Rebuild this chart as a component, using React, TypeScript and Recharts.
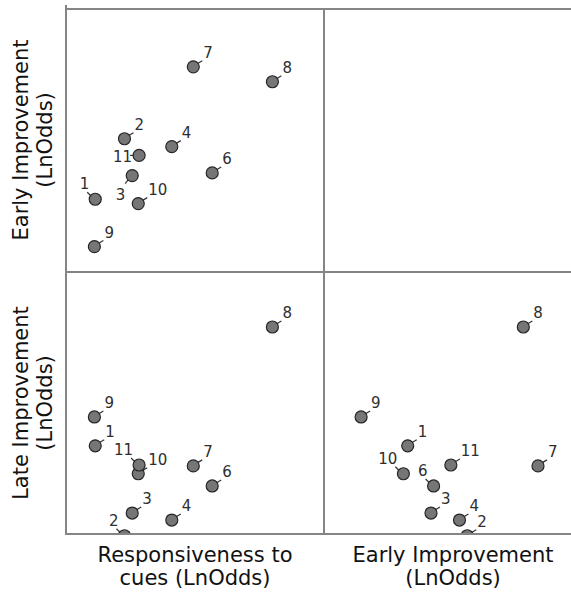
import React from 'react';
import { ScatterChart, Scatter, XAxis, YAxis } from 'recharts';

// case ids (there is no case 5)
const ids = ['1', '2', '3', '4', '6', '7', '8', '9', '10', '11'];
const responsiveness = [-0.16, 0.18, 0.27, 0.73, 1.2, 0.98, 1.9, -0.17, 0.34, 0.35];
const earlyImprovement = [-0.17, 0.52, 0.1, 0.43, 0.13, 1.34, 1.17, -0.71, -0.22, 0.33];
const lateImprovement = [0.01, -1.02, -0.76, -0.84, -0.45, -0.22, 1.37, 0.34, -0.31, -0.21];

// label side per cell, default is upper right
const sidesTopLeft: Record<string, string> = { '1': 'ul', '3': 'll', '11': 'l' };
const sidesBottomLeft: Record<string, string> = { '11': 'ul', '2': 'ul' };
const sidesBottomRight: Record<string, string> = { '10': 'ul', '6': 'ul' };

const respDomain: [number, number] = [-0.5, 2.5];
const earlyDomainY: [number, number] = [-1.0, 2.0];
const earlyDomainX: [number, number] = [-1.14, 1.85];
const lateDomain: [number, number] = [-1.0, 2.0];

const FRAME = '#858585';
const TITLE_FONT = '"DejaVu Sans", sans-serif';

function makeRows(xs: number[], ys: number[]) {
  return ids.map((id, i) => ({ id, x: xs[i], y: ys[i] }));
}

function makeShape(sides: Record<string, string>) {
  return (props: any) => {
    const { cx, cy, payload } = props;
    const side = sides[payload.id] || 'ur';
    let tx = cx + 10;
    let ty = cy - 9;
    let anchor: 'start' | 'end' = 'start';
    let lead = [cx + 4, cy - 3, cx + 9, cy - 6];
    if (side === 'ul') {
      tx = cx - 6;
      ty = cy - 10;
      anchor = 'end';
      lead = [cx - 4, cy - 3, cx - 8, cy - 7];
    } else if (side === 'l') {
      tx = cx - 7;
      ty = cy + 7;
      anchor = 'end';
      lead = [cx - 5, cy, cx - 9, cy];
    } else if (side === 'll') {
      tx = cx - 7;
      ty = cy + 24;
      anchor = 'end';
      lead = [cx - 4, cy + 4, cx - 7, cy + 8];
    }
    return (
      <g>
        <line x1={lead[0]} y1={lead[1]} x2={lead[2]} y2={lead[3]} stroke="#333" strokeWidth={1.2} />
        <circle cx={cx} cy={cy} r={6} fill="#767676" stroke="#262626" strokeWidth={1.2} />
        <text
          x={tx}
          y={ty}
          textAnchor={anchor}
          fontSize={15}
          fontFamily='"DejaVu Sans", sans-serif'
          fill="#2e2e2e"
        >
          {payload.id}
        </text>
      </g>
    );
  };
}

interface CellProps {
  left: number;
  top: number;
  width: number;
  height: number;
  data: { id: string; x: number; y: number }[];
  xDomain: [number, number];
  yDomain: [number, number];
  sides: Record<string, string>;
}

function Cell({ left, top, width, height, data, xDomain, yDomain, sides }: CellProps) {
  return (
    <div style={{ position: 'absolute', left, top, width, height }}>
      <ScatterChart width={width} height={height} margin={{ top: 0, right: 0, bottom: 0, left: 0 }}>
        <XAxis type="number" dataKey="x" domain={xDomain} hide allowDataOverflow />
        <YAxis type="number" dataKey="y" domain={yDomain} hide allowDataOverflow />
        <Scatter data={data} shape={makeShape(sides)} isAnimationActive={false} />
      </ScatterChart>
    </div>
  );
}

export default function App() {
  return (
    <div
      style={{
        position: 'absolute',
        left: 0,
        top: 0,
        width: 571,
        height: 592,
        overflow: 'hidden',
        background: '#fff',
      }}
    >
      <Cell
        left={66}
        top={9}
        width={258}
        height={263}
        data={makeRows(responsiveness, earlyImprovement)}
        xDomain={respDomain}
        yDomain={earlyDomainY}
        sides={sidesTopLeft}
      />
      <Cell
        left={66}
        top={272}
        width={258}
        height={262}
        data={makeRows(responsiveness, lateImprovement)}
        xDomain={respDomain}
        yDomain={lateDomain}
        sides={sidesBottomLeft}
      />
      <Cell
        left={324}
        top={272}
        width={258}
        height={262}
        data={makeRows(earlyImprovement, lateImprovement)}
        xDomain={earlyDomainX}
        yDomain={lateDomain}
        sides={sidesBottomRight}
      />
      <svg
        width={571}
        height={592}
        style={{ position: 'absolute', left: 0, top: 0, pointerEvents: 'none' }}
      >
        <g stroke={FRAME} strokeWidth={2}>
          <line x1={66} y1={5} x2={66} y2={535} />
          <line x1={324} y1={9} x2={324} y2={535} />
          <line x1={65} y1={9} x2={571} y2={9} />
          <line x1={65} y1={272} x2={571} y2={272} />
          <line x1={65} y1={534} x2={571} y2={534} />
        </g>
        <g fontFamily={TITLE_FONT} fontSize={21} fill="#111" textAnchor="middle">
          <text x={195} y={562}>Responsiveness to</text>
          <text x={195} y={585}>cues (LnOdds)</text>
          <text x={453} y={562}>Early Improvement</text>
          <text x={453} y={585}>(LnOdds)</text>
          <text x={28} y={140} transform="rotate(-90 28 140)">Early Improvement</text>
          <text x={52} y={140} transform="rotate(-90 52 140)">(LnOdds)</text>
          <text x={28} y={403} transform="rotate(-90 28 403)">Late Improvement</text>
          <text x={52} y={403} transform="rotate(-90 52 403)">(LnOdds)</text>
        </g>
      </svg>
    </div>
  );
}
